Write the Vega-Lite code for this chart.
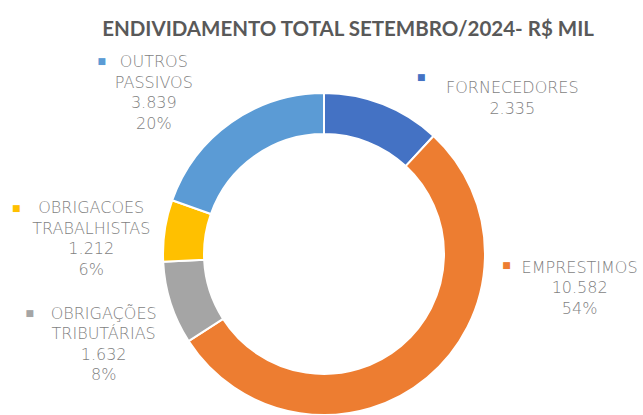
{
  "$schema": "https://vega.github.io/schema/vega-lite/v6.json",
  "autosize": {"type": "none"},
  "padding": {"left": 0, "top": 50, "right": 0, "bottom": 0},
  "width": 648,
  "height": 408,
  "background": "white",
  "title": {
    "text": "ENDIVIDAMENTO TOTAL SETEMBRO/2024- R$ MIL",
    "font": "Lato",
    "fontSize": 20.5,
    "fontWeight": "bold",
    "color": "#595959",
    "anchor": "middle",
    "dx": 24,
    "offset": 10
  },
  "config": {"view": {"stroke": null}},
  "data": {
    "values": [
      {"ordem": 1, "categoria": "FORNECEDORES", "valor": 2335, "rotulo": "FORNECEDORES\n2.335"},
      {"ordem": 2, "categoria": "EMPRESTIMOS", "valor": 10582, "rotulo": "EMPRESTIMOS\n10.582\n54%"},
      {"ordem": 3, "categoria": "OBRIGAÇÕES TRIBUTÁRIAS", "valor": 1632, "rotulo": "OBRIGAÇÕES\nTRIBUTÁRIAS\n1.632\n8%"},
      {"ordem": 4, "categoria": "OBRIGACOES TRABALHISTAS", "valor": 1212, "rotulo": "OBRIGACOES\nTRABALHISTAS\n1.212\n6%"},
      {"ordem": 5, "categoria": "OUTROS PASSIVOS", "valor": 3839, "rotulo": "OUTROS\nPASSIVOS\n3.839\n20%"}
    ]
  },
  "transform": [
    {"stack": "valor", "groupby": [], "sort": [{"field": "ordem", "order": "ascending"}], "as": ["ini", "fim"]}
  ],
  "encoding": {
    "color": {
      "field": "categoria",
      "type": "nominal",
      "legend": null,
      "scale": {
        "domain": ["FORNECEDORES", "EMPRESTIMOS", "OBRIGAÇÕES TRIBUTÁRIAS", "OBRIGACOES TRABALHISTAS", "OUTROS PASSIVOS"],
        "range": ["#4472C4", "#ED7D31", "#A5A5A5", "#FFC000", "#5B9BD5"]
      }
    }
  },
  "layer": [
    {
      "mark": {"type": "arc", "outerRadius": 161, "innerRadius": 120, "stroke": "white", "strokeWidth": 2},
      "encoding": {
        "theta": {"field": "ini", "type": "quantitative", "scale": {"domain": [0, 19600]}},
        "theta2": {"field": "fim"}
      }
    },
    {
      "transform": [{"filter": "datum.categoria === 'FORNECEDORES'"}],
      "mark": {"type": "text", "radius": 240, "dx": 25, "dy": 10, "font": "DejaVu Sans", "fontSize": 16, "fontWeight": 300, "lineBreak": "\n", "lineHeight": 20.5, "align": "center", "baseline": "middle"},
      "encoding": {"theta": {"field": "fim", "type": "quantitative"}, "color": {"value": "#7f7f7f"}, "text": {"field": "rotulo"}}
    },
    {
      "transform": [{"filter": "datum.categoria === 'FORNECEDORES'"}],
      "mark": {"type": "text", "radius": 240, "dx": -66, "dy": -1, "font": "DejaVu Sans", "fontSize": 9, "align": "center", "baseline": "middle"},
      "encoding": {"theta": {"field": "fim", "type": "quantitative"}, "text": {"value": "■"}}
    },
    {
      "transform": [{"filter": "datum.categoria === 'EMPRESTIMOS'"}],
      "mark": {"type": "text", "radius": 164, "dx": 144, "dy": 134, "font": "DejaVu Sans", "fontSize": 16, "fontWeight": 300, "lineBreak": "\n", "lineHeight": 20.5, "align": "center", "baseline": "middle"},
      "encoding": {"theta": {"field": "ini", "type": "quantitative"}, "color": {"value": "#7f7f7f"}, "text": {"field": "rotulo"}}
    },
    {
      "transform": [{"filter": "datum.categoria === 'EMPRESTIMOS'"}],
      "mark": {"type": "text", "radius": 164, "dx": 71, "dy": 131, "font": "DejaVu Sans", "fontSize": 9, "align": "center", "baseline": "middle"},
      "encoding": {"theta": {"field": "ini", "type": "quantitative"}, "text": {"value": "■"}}
    },
    {
      "transform": [{"filter": "datum.categoria === 'OBRIGAÇÕES TRIBUTÁRIAS'"}],
      "mark": {"type": "text", "radius": 218, "dx": -37, "dy": -58, "font": "DejaVu Sans", "fontSize": 16, "fontWeight": 300, "lineBreak": "\n", "lineHeight": 20.5, "align": "center", "baseline": "middle"},
      "encoding": {"theta": {"field": "ini", "type": "quantitative"}, "color": {"value": "#7f7f7f"}, "text": {"field": "rotulo"}}
    },
    {
      "transform": [{"filter": "datum.categoria === 'OBRIGAÇÕES TRIBUTÁRIAS'"}],
      "mark": {"type": "text", "radius": 218, "dx": -111, "dy": -59, "font": "DejaVu Sans", "fontSize": 9, "align": "center", "baseline": "middle"},
      "encoding": {"theta": {"field": "ini", "type": "quantitative"}, "text": {"value": "■"}}
    },
    {
      "transform": [{"filter": "datum.categoria === 'OBRIGACOES TRABALHISTAS'"}],
      "mark": {"type": "text", "radius": 230, "dx": -3, "dy": -57, "font": "DejaVu Sans", "fontSize": 16, "fontWeight": 300, "lineBreak": "\n", "lineHeight": 20.5, "align": "center", "baseline": "middle"},
      "encoding": {"theta": {"field": "ini", "type": "quantitative"}, "color": {"value": "#7f7f7f"}, "text": {"field": "rotulo"}}
    },
    {
      "transform": [{"filter": "datum.categoria === 'OBRIGACOES TRABALHISTAS'"}],
      "mark": {"type": "text", "radius": 230, "dx": -78, "dy": -57, "font": "DejaVu Sans", "fontSize": 9, "align": "center", "baseline": "middle"},
      "encoding": {"theta": {"field": "ini", "type": "quantitative"}, "text": {"value": "■"}}
    },
    {
      "transform": [{"filter": "datum.categoria === 'OUTROS PASSIVOS'"}],
      "mark": {"type": "text", "radius": 224, "dx": 41, "dy": -117, "font": "DejaVu Sans", "fontSize": 16, "fontWeight": 300, "lineBreak": "\n", "lineHeight": 20.5, "align": "center", "baseline": "middle"},
      "encoding": {"theta": {"field": "ini", "type": "quantitative"}, "color": {"value": "#7f7f7f"}, "text": {"field": "rotulo"}}
    },
    {
      "transform": [{"filter": "datum.categoria === 'OUTROS PASSIVOS'"}],
      "mark": {"type": "text", "radius": 224, "dx": -11, "dy": -118, "font": "DejaVu Sans", "fontSize": 9, "align": "center", "baseline": "middle"},
      "encoding": {"theta": {"field": "ini", "type": "quantitative"}, "text": {"value": "■"}}
    }
  ]
}
